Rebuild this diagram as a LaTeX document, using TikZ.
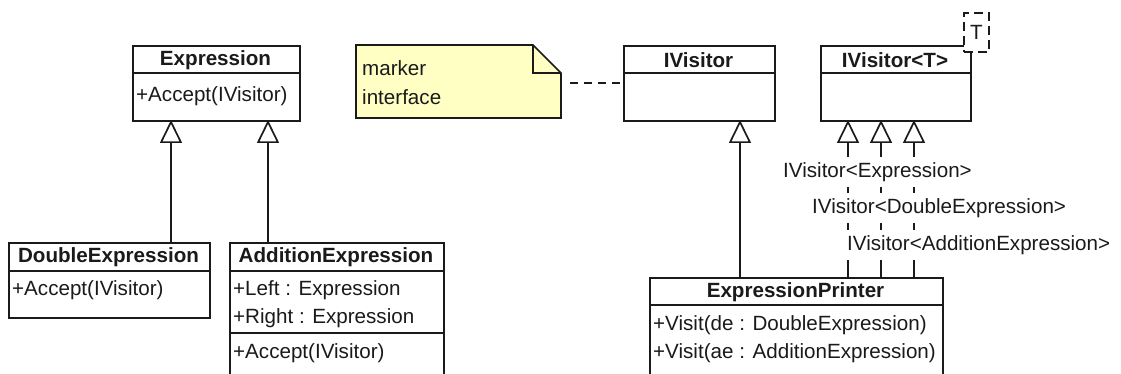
\documentclass[tikz,border=0pt]{standalone}
\usepackage{fontspec}
\setmainfont{Liberation Sans}
\usetikzlibrary{arrows.meta}
\definecolor{ink}{RGB}{26,26,26}
\definecolor{notefill}{RGB}{255,255,196}
\begin{document}
\begin{tikzpicture}[x=1pt,y=-1pt,
  every node/.style={font=\fontsize{20.6}{24}\selectfont, text=ink},
  classbox/.style={draw=ink, line width=1.7pt, fill=white, anchor=north west, inner sep=0pt},
  sep/.style={draw=ink, line width=1.7pt},
  hdr/.style={font=\fontsize{20.6}{24}\selectfont\bfseries, inner sep=0pt},
  member/.style={anchor=west, inner sep=0pt},
  inherit/.style={draw=ink, line width=1.7pt, -{Triangle[open, width=22pt, length=23pt, line width=1.7pt]}},
  tlabel/.style={anchor=west, fill=white, inner xsep=1pt, inner ysep=5pt},
  notelink/.style={draw=ink, line width=1.7pt, dash pattern=on 8pt off 6pt},
]
\useasboundingbox (0,0) rectangle (1121,374);
\clip (0,0) rectangle (1121,374);

% Expression
\node[classbox, minimum width=167pt, minimum height=75pt] (expr) at (132,45) {};
\draw[sep] (132,73) -- (299,73);
\node[hdr] (exprT) at (215.5,60) {Expression};
\node[member] (exprM) at (136,96) {+Accept(IVisitor)};

% DoubleExpression
\node[classbox, minimum width=201pt, minimum height=75pt] (dbl) at (8,242) {};
\draw[sep] (8,271) -- (209,271);
\node[hdr] (dblT) at (108.5,257) {DoubleExpression};
\node[member] (dblM) at (12,290) {+Accept(IVisitor)};

% AdditionExpression
\node[classbox, minimum width=214pt, minimum height=145pt] (add) at (229,242) {};
\draw[sep] (229,271) -- (443,271);
\draw[sep] (229,333) -- (443,333);
\node[hdr] (addT) at (336,257) {AdditionExpression};
\node[member] (addL) at (233,290) {+Left : Expression};
\node[member] (addR) at (233,318) {+Right : Expression};
\node[member] (addA) at (233,353) {+Accept(IVisitor)};

% Note
\node[anchor=north west, minimum width=205pt, minimum height=73pt, inner sep=0pt] (note) at (356,45) {};
\draw[draw=ink, line width=1.7pt, fill=notefill]
  (356,45) -- (533,45) -- (561,73) -- (561,118) -- (356,118) -- cycle;
\draw[draw=ink, line width=1.7pt] (533,45) -- (533,73) -- (561,73);
\node[member] (noteA) at (362,68) {marker};
\node[member] (noteB) at (362,97) {interface};

% IVisitor
\node[classbox, minimum width=151pt, minimum height=75pt] (iv) at (623,45) {};
\draw[sep] (623,73) -- (774,73);
\node[hdr] (ivT) at (698.5,60) {IVisitor};

% IVisitor<T>
\node[classbox, minimum width=150pt, minimum height=75pt] (ivt) at (820,45) {};
\draw[sep] (820,73) -- (970,73);
\node[hdr] (ivtT) at (895,60) {IVisitor<T>};
\node[draw=ink, line width=1.7pt, dash pattern=on 9pt off 5pt, fill=white,
  anchor=north west, minimum width=25pt, minimum height=39pt, inner sep=0pt] (tpar) at (963,12) {T};

% ExpressionPrinter
\node[classbox, minimum width=293pt, minimum height=110pt] (prn) at (649,277) {};
\draw[sep] (649,305) -- (942,305);
\node[hdr] (prnT) at (795.5,292) {ExpressionPrinter};
\node[member] (prnA) at (653,325) {+Visit(de : DoubleExpression)};
\node[member] (prnB) at (653,353) {+Visit(ae : AdditionExpression)};

% Attachment points on the lower edges of the superclasses
\coordinate (e1) at (171,120);
\coordinate (e2) at (268,120);
\coordinate (v0) at (740,120);
\coordinate (t1) at (848,120);
\coordinate (t2) at (881,120);
\coordinate (t3) at (914,120);

% Generalisations
\draw[inherit] (e1 |- dbl.north) -- (e1);
\draw[inherit] (e2 |- add.north) -- (e2);
\draw[inherit] (v0 |- prn.north) -- (v0);

% Realisations of the generic interface
\draw[inherit] (t1 |- prn.north) -- (t1);
\draw[inherit] (t2 |- prn.north) -- (t2);
\draw[inherit] (t3 |- prn.north) -- (t3);
\node[tlabel] (lab1) at (782,172) {IVisitor<Expression>};
\node[tlabel] (lab2) at (811,208) {IVisitor<DoubleExpression>};
\node[tlabel] (lab3) at (846,245) {IVisitor<AdditionExpression>};

% Note link
\draw[notelink] (note.east |- 0,83) ++(9,0) -- (iv.west |- 0,83);
\end{tikzpicture}
\end{document}
